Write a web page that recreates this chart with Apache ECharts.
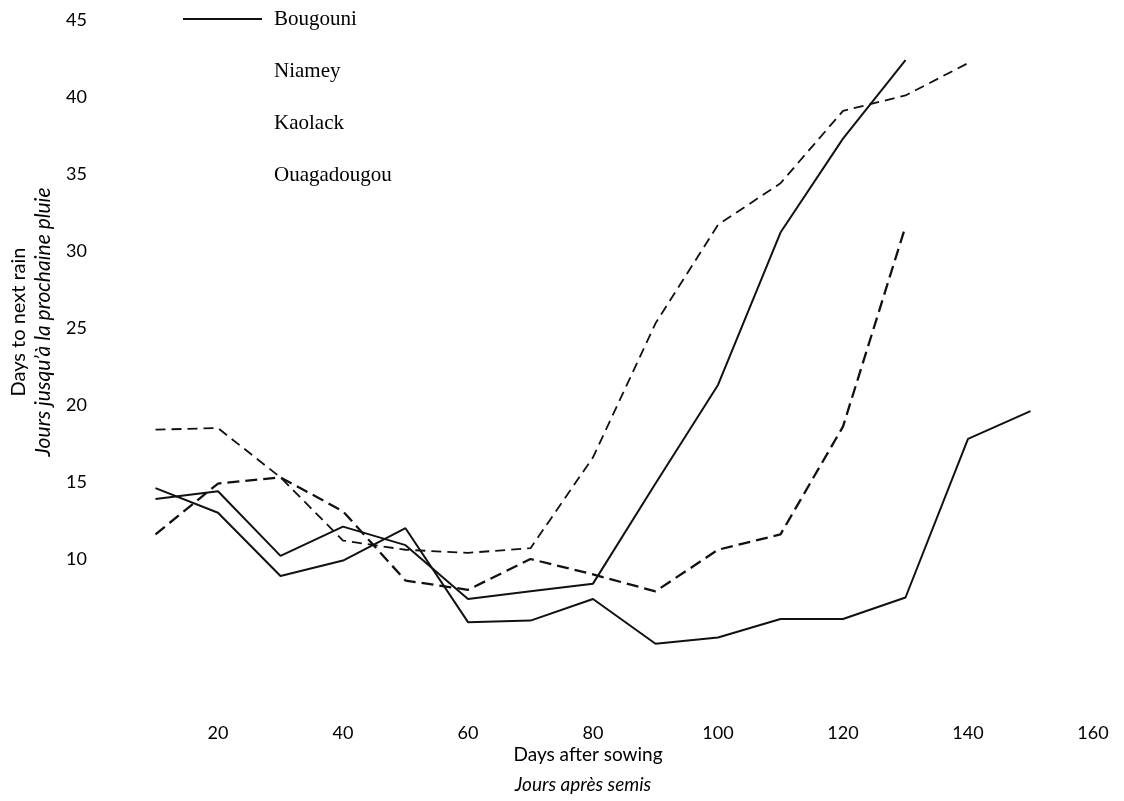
<!DOCTYPE html>
<html>
<head>
<meta charset="utf-8">
<script src="https://cdn.jsdelivr.net/npm/echarts@6/dist/echarts.min.js"></script>
<style>html,body{margin:0;padding:0;background:#fff;}#c{width:1124px;height:801px;}</style>
</head>
<body>
<div id="c"></div>
<script>
const days = [10, 20, 30, 40, 50, 60, 70, 80, 90, 100, 110, 120, 130, 140, 150];
const seriesNames = ['Bougouni', 'Niamey', 'Kaolack', 'Ouagadougou'];
const bougouni = [14.6, 13.0, 8.9, 9.9, 12.0, 5.9, 6.0, 7.4, 4.5, 4.9, 6.1, 6.1, 7.5, 17.8, 19.6];
const niamey = [18.4, 18.5, 15.3, 11.2, 10.6, 10.4, 10.7, 16.6, 25.3, 31.7, 34.4, 39.1, 40.1, 42.2, null];
const kaolack = [13.9, 14.4, 10.2, 12.1, 10.9, 7.4, 7.9, 8.4, 14.9, 21.3, 31.2, 37.3, 42.4, null, null];
const ouagadougou = [11.6, 14.9, 15.3, 13.1, 8.6, 8.0, 10.0, 9.0, 7.9, 10.6, 11.6, 18.6, 31.6, null, null];
const xTicks = [20, 40, 60, 80, 100, 120, 140, 160];
const yTicks = [10, 15, 20, 25, 30, 35, 40, 45];

function pairs(vals) {
  return days.map((d, i) => [d, vals[i]]).filter(p => p[1] !== null);
}

const chart = echarts.init(document.getElementById('c'), null, {renderer: 'canvas'});
const ink = '#111';
const txt = '#000';
const axisFont = 'Lato';
const serif = 'Liberation Serif';

chart.setOption({
  backgroundColor: '#fff',
  animation: false,
  grid: {left: 93, right: 31, top: 20, bottom: 88, containLabel: false},
  legend: {
    orient: 'vertical',
    left: 183,
    top: 8,
    padding: 0,
    itemWidth: 79,
    itemHeight: 22,
    itemGap: 30,
    selectedMode: false,
    textStyle: {fontFamily: serif, fontSize: 21, color: txt, lineHeight: 22, padding: [0, 0, 0, 7]},
    data: [
      {name: 'Bougouni', icon: 'path://M0,0L79,0L79,2L0,2Z', itemStyle: {color: ink}},
      {name: 'Niamey', icon: 'rect', itemStyle: {color: 'rgba(0,0,0,0)', opacity: 0}, lineStyle: {opacity: 0}},
      {name: 'Kaolack', icon: 'rect', itemStyle: {color: 'rgba(0,0,0,0)', opacity: 0}, lineStyle: {opacity: 0}},
      {name: 'Ouagadougou', icon: 'rect', itemStyle: {color: 'rgba(0,0,0,0)', opacity: 0}, lineStyle: {opacity: 0}}
    ]
  },
  xAxis: {
    type: 'value', min: 0, max: 160, interval: 20,
    axisLine: {show: false}, axisTick: {show: false}, splitLine: {show: false},
    axisLabel: {
      margin: 11, fontFamily: axisFont, fontSize: 18, color: txt,
      formatter: v => xTicks.indexOf(v) >= 0 ? String(v) : ''
    }
  },
  yAxis: {
    type: 'value', min: 0, max: 45, interval: 5,
    axisLine: {show: false}, axisTick: {show: false}, splitLine: {show: false},
    axisLabel: {
      margin: 6, fontFamily: axisFont, fontSize: 18, color: txt,
      formatter: v => yTicks.indexOf(v) >= 0 ? String(v) : ''
    }
  },
  graphic: [
    {type: 'text', x: 19, y: 322, rotation: Math.PI / 2,
     style: {text: 'Days to next rain', fontFamily: axisFont, fontSize: 20, fill: txt, align: 'center', verticalAlign: 'middle'}},
    {type: 'text', x: 43, y: 322, rotation: Math.PI / 2,
     style: {text: 'Jours jusqu\u2019à la prochaine pluie', fontFamily: axisFont, fontStyle: 'italic', fontSize: 21, fill: txt, align: 'center', verticalAlign: 'middle'}},
    {type: 'text', x: 588, y: 755,
     style: {text: 'Days after sowing', fontFamily: axisFont, fontSize: 19, fill: txt, align: 'center', verticalAlign: 'middle'}},
    {type: 'text', x: 583, y: 785,
     style: {text: 'Jours après semis', fontFamily: axisFont, fontStyle: 'italic', fontSize: 19, fill: txt, align: 'center', verticalAlign: 'middle'}}
  ],
  series: [
    {name: 'Bougouni', type: 'line', data: pairs(bougouni), symbol: 'none', showSymbol: false,
     lineStyle: {color: ink, width: 2, type: 'solid'}, itemStyle: {color: ink}},
    {name: 'Niamey', type: 'line', data: pairs(niamey), symbol: 'none', showSymbol: false,
     lineStyle: {color: ink, width: 1.8, type: [10, 6]}, itemStyle: {color: ink}},
    {name: 'Kaolack', type: 'line', data: pairs(kaolack), symbol: 'none', showSymbol: false,
     lineStyle: {color: ink, width: 2, type: 'solid'}, itemStyle: {color: ink}},
    {name: 'Ouagadougou', type: 'line', data: pairs(ouagadougou), symbol: 'none', showSymbol: false,
     lineStyle: {color: ink, width: 2.3, type: [12, 6]}, itemStyle: {color: ink}}
  ]
});
</script>
</body>
</html>
